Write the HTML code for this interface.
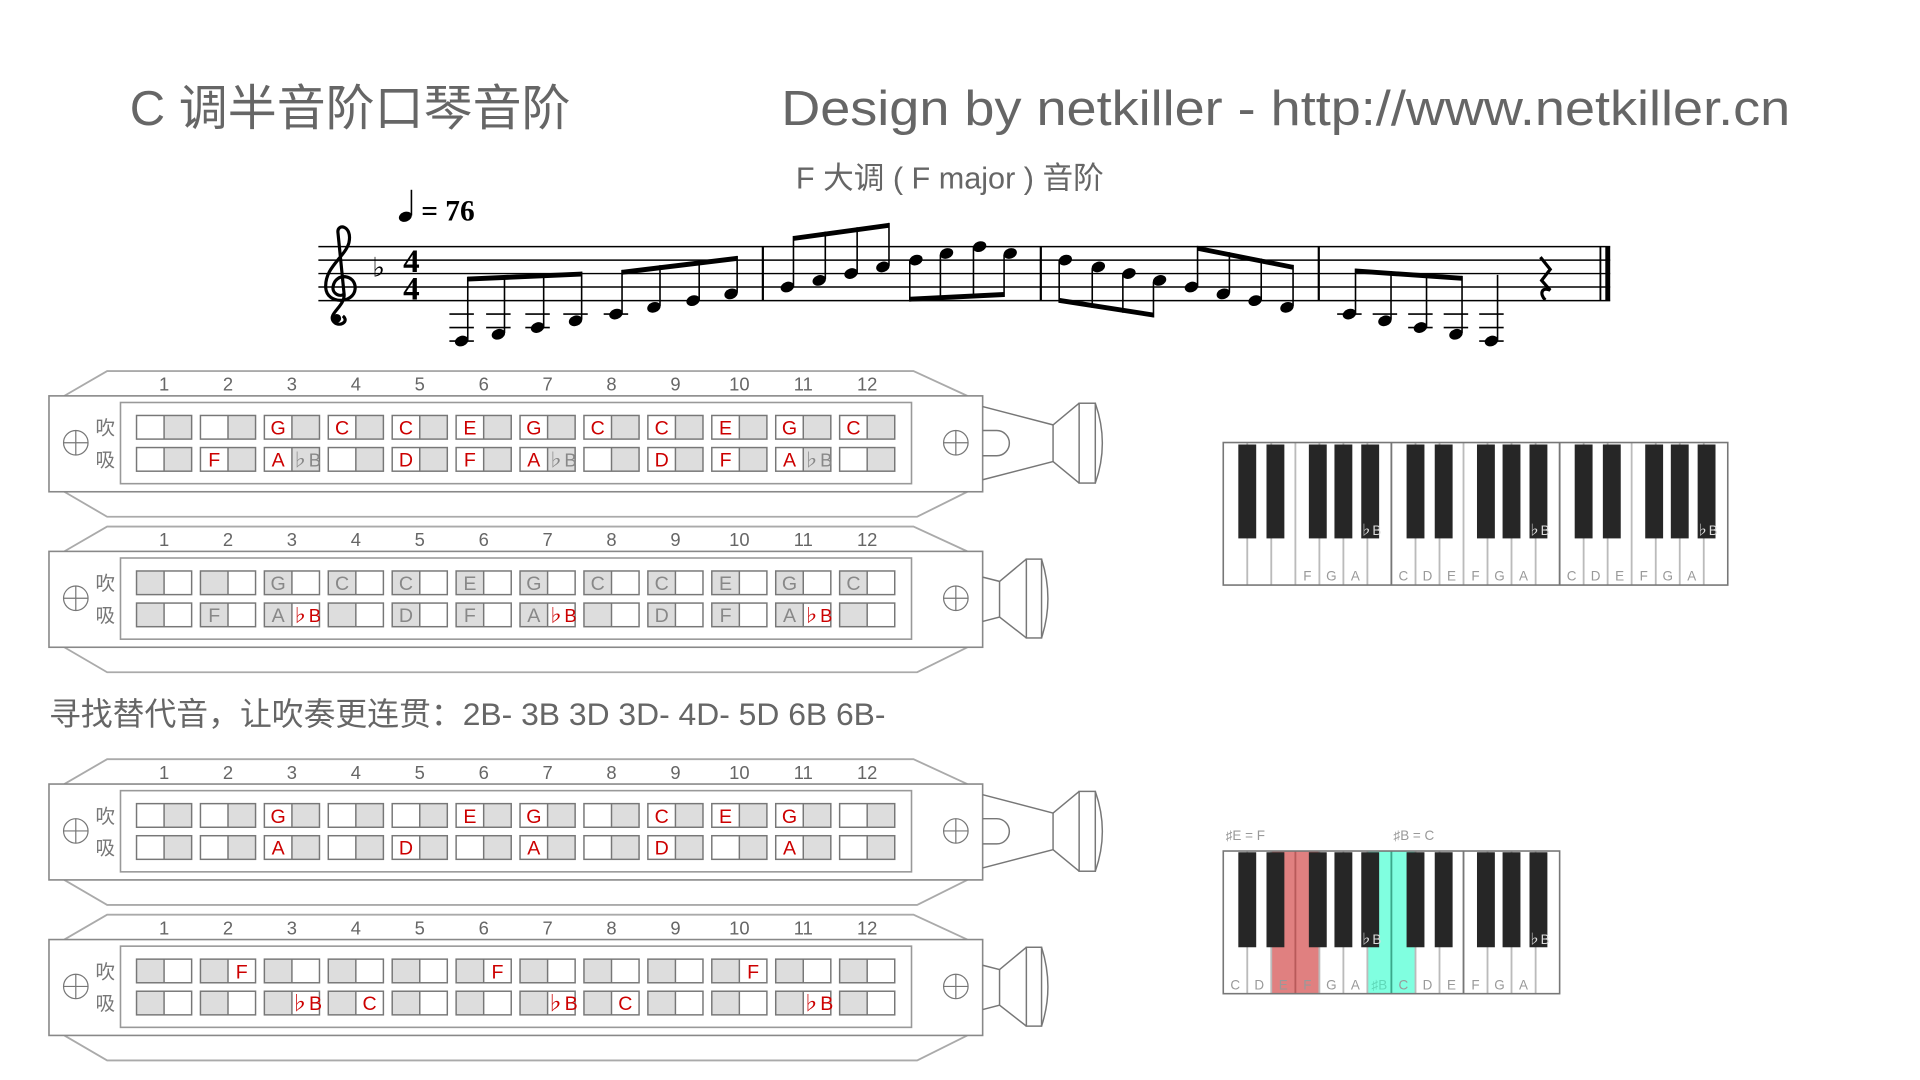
<!DOCTYPE html>
<html><head><meta charset="utf-8"><style>
html,body{margin:0;padding:0;background:#fff;width:1920px;height:1080px;overflow:hidden}
svg{display:block}
text{font-family:"Liberation Sans","Noto Sans CJK SC",sans-serif}
text.serif{font-family:"Liberation Serif",serif;font-weight:bold}
text.dj{font-family:"DejaVu Sans",sans-serif}
</style></head><body>
<svg width="1920" height="1080" viewBox="0 0 1568 882" preserveAspectRatio="none" xmlns="http://www.w3.org/2000/svg">
<defs>
<g id="pA"><rect x="0" y="339.3" width="22.5" height="19.3" fill="#fff"/><rect x="22.5" y="339.3" width="22.5" height="19.3" fill="#ddd"/><rect x="0" y="365.5" width="22.5" height="19.3" fill="#fff"/><rect x="22.5" y="365.5" width="22.5" height="19.3" fill="#ddd"/><g fill="none" stroke="#777" stroke-width="1.2"><rect x="0" y="339.3" width="45" height="19.3"/><rect x="0" y="365.5" width="45" height="19.3"/><line x1="22.5" y1="339.3" x2="22.5" y2="358.6"/><line x1="22.5" y1="365.5" x2="22.5" y2="384.8"/></g></g>
<g id="pB"><rect x="0" y="339.3" width="22.5" height="19.3" fill="#ddd"/><rect x="22.5" y="339.3" width="22.5" height="19.3" fill="#fff"/><rect x="0" y="365.5" width="22.5" height="19.3" fill="#ddd"/><rect x="22.5" y="365.5" width="22.5" height="19.3" fill="#fff"/><g fill="none" stroke="#777" stroke-width="1.2"><rect x="0" y="339.3" width="45" height="19.3"/><rect x="0" y="365.5" width="45" height="19.3"/><line x1="22.5" y1="339.3" x2="22.5" y2="358.6"/><line x1="22.5" y1="365.5" x2="22.5" y2="384.8"/></g></g>
<g id="body">
<polyline points="52.5,323.3 87.5,303 746,303 790,323.3" fill="none" stroke="#aaa" stroke-width="1.5"/>
<polyline points="52.5,401.6 87.5,422 749,422 790,401.6" fill="none" stroke="#aaa" stroke-width="1.5"/>
<rect x="40" y="323.3" width="762.5" height="78.3" fill="#fff" stroke="#888" stroke-width="1.3"/>
<rect x="98.4" y="328.7" width="646" height="66.3" fill="#fff" stroke="#999" stroke-width="1.3"/>
<g fill="none" stroke="#777" stroke-width="1"><circle cx="61.9" cy="361.6" r="10"/><line x1="51.9" y1="361.6" x2="71.9" y2="361.6"/><line x1="61.9" y1="351.6" x2="61.9" y2="371.6"/>
<circle cx="780.6" cy="361.6" r="10"/><line x1="770.6" y1="361.6" x2="790.6" y2="361.6"/><line x1="780.6" y1="351.6" x2="780.6" y2="371.6"/></g>
<text x="86" y="355" font-size="16" fill="#777" text-anchor="middle">吹</text>
<text x="86" y="381" font-size="16" fill="#777" text-anchor="middle">吸</text>
<g font-size="15" fill="#666" text-anchor="middle">
<text x="134" y="319">1</text><text x="186.2" y="319">2</text><text x="238.4" y="319">3</text><text x="290.6" y="319">4</text><text x="342.8" y="319">5</text><text x="395" y="319">6</text><text x="447.2" y="319">7</text><text x="499.4" y="319">8</text><text x="551.6" y="319">9</text><text x="603.8" y="319">10</text><text x="656" y="319">11</text><text x="708.2" y="319">12</text></g>
</g>
<g id="cellsA"><use href="#pA" x="111.5"/><use href="#pA" x="163.7"/><use href="#pA" x="215.9"/><use href="#pA" x="268.1"/><use href="#pA" x="320.3"/><use href="#pA" x="372.5"/><use href="#pA" x="424.7"/><use href="#pA" x="476.9"/><use href="#pA" x="529.1"/><use href="#pA" x="581.3"/><use href="#pA" x="633.5"/><use href="#pA" x="685.7"/></g>
<g id="cellsB"><use href="#pB" x="111.5"/><use href="#pB" x="163.7"/><use href="#pB" x="215.9"/><use href="#pB" x="268.1"/><use href="#pB" x="320.3"/><use href="#pB" x="372.5"/><use href="#pB" x="424.7"/><use href="#pB" x="476.9"/><use href="#pB" x="529.1"/><use href="#pB" x="581.3"/><use href="#pB" x="633.5"/><use href="#pB" x="685.7"/></g>
<g id="mouthA" fill="none" stroke="#777" stroke-width="1.2">
<polyline points="802.5,332 860,347 881.3,329.3"/><polyline points="802.5,391.8 860,376.9 881.3,394.5"/><line x1="860" y1="347" x2="860" y2="376.9"/>
<rect x="881.3" y="329.3" width="13.2" height="65.2"/><path d="M894.5,329.3 Q906,362 894.5,394.5"/>
<path d="M802.5,351.6 H814 A10.3,10.3 0 0 1 814,372.2 H802.5"/></g>
<g id="mouthB" fill="none" stroke="#777" stroke-width="1.2">
<polyline points="802.5,344.3 816.3,347.8 838.2,329.6"/><polyline points="802.5,380.5 816.3,376.9 838.2,394"/><line x1="816.3" y1="347.8" x2="816.3" y2="376.9"/>
<rect x="838.2" y="329.6" width="12.4" height="64.4"/><path d="M850.6,329.6 Q861,362 850.6,394"/></g>
</defs>

<text x="106" y="102" font-size="40" fill="#666">C 调半音阶口琴音阶</text>
<text x="638" y="102" font-size="40" fill="#666" textLength="824" lengthAdjust="spacingAndGlyphs">Design by netkiller - http://www.netkiller.cn</text>
<text x="650" y="154" font-size="25" fill="#666">F 大调 ( F major ) 音阶</text>

<g stroke="#000" stroke-width="1.2">
<line x1="260" y1="201.4" x2="1315" y2="201.4"/><line x1="260" y1="212.4" x2="1315" y2="212.4"/><line x1="260" y1="223.4" x2="1315" y2="223.4"/><line x1="260" y1="234.4" x2="1315" y2="234.4"/><line x1="260" y1="245.5" x2="1315" y2="245.5"/>
<line x1="623" y1="201.4" x2="623" y2="245.5" stroke-width="1.8"/><line x1="850" y1="201.4" x2="850" y2="245.5" stroke-width="1.8"/><line x1="1077" y1="201.4" x2="1077" y2="245.5" stroke-width="1.8"/><line x1="1307" y1="201.4" x2="1307" y2="245.5" stroke-width="1.5"/>
</g>
<rect x="1311" y="201.4" width="4" height="44.1" fill="#000"/>
<path d="M280,258 C286,263 276,268 272,262 C268,256 282,250 281,240 L276,190 C275,182 288,184 285,198 C282,210 265,218 266,235 C267,249 289,248 290,236 C291,224 274,222 272,234 C271,240 278,243 281,240" fill="none" stroke="#000" stroke-width="2.6"/>
<circle cx="275" cy="260" r="3.6" fill="#000"/>
<text class="dj" x="304" y="226" font-size="22" fill="#000">♭</text>
<text class="serif" x="336" y="222" font-size="27" text-anchor="middle" fill="#000">4</text>
<text class="serif" x="336" y="244.5" font-size="27" text-anchor="middle" fill="#000">4</text>
<ellipse cx="331" cy="177" rx="5.4" ry="4" transform="rotate(-20 331 177)" fill="#000"/>
<line x1="336" y1="176" x2="336" y2="155" stroke="#000" stroke-width="1.3"/>
<text class="serif" x="344" y="180" font-size="24" fill="#000">= 76</text>

<g fill="#000">
<ellipse cx="377" cy="278.5" rx="5.6" ry="4.2" transform="rotate(-20 377 278.5)"/>
<ellipse cx="407" cy="273" rx="5.6" ry="4.2" transform="rotate(-20 407 273)"/>
<ellipse cx="439" cy="267.5" rx="5.6" ry="4.2" transform="rotate(-20 439 267.5)"/>
<ellipse cx="470" cy="262" rx="5.6" ry="4.2" transform="rotate(-20 470 262)"/>
<ellipse cx="503" cy="256.5" rx="5.6" ry="4.2" transform="rotate(-20 503 256.5)"/>
<ellipse cx="534" cy="251" rx="5.6" ry="4.2" transform="rotate(-20 534 251)"/>
<ellipse cx="566" cy="245.5" rx="5.6" ry="4.2" transform="rotate(-20 566 245.5)"/>
<ellipse cx="597" cy="240" rx="5.6" ry="4.2" transform="rotate(-20 597 240)"/>
<ellipse cx="643" cy="234.4" rx="5.6" ry="4.2" transform="rotate(-20 643 234.4)"/>
<ellipse cx="669" cy="229" rx="5.6" ry="4.2" transform="rotate(-20 669 229)"/>
<ellipse cx="695" cy="223.4" rx="5.6" ry="4.2" transform="rotate(-20 695 223.4)"/>
<ellipse cx="721" cy="218" rx="5.6" ry="4.2" transform="rotate(-20 721 218)"/>
<ellipse cx="748" cy="212.4" rx="5.6" ry="4.2" transform="rotate(-20 748 212.4)"/>
<ellipse cx="773" cy="207" rx="5.6" ry="4.2" transform="rotate(-20 773 207)"/>
<ellipse cx="800" cy="201.4" rx="5.6" ry="4.2" transform="rotate(-20 800 201.4)"/>
<ellipse cx="825" cy="207" rx="5.6" ry="4.2" transform="rotate(-20 825 207)"/>
<ellipse cx="870" cy="212.4" rx="5.6" ry="4.2" transform="rotate(-20 870 212.4)"/>
<ellipse cx="897" cy="218" rx="5.6" ry="4.2" transform="rotate(-20 897 218)"/>
<ellipse cx="922" cy="223.4" rx="5.6" ry="4.2" transform="rotate(-20 922 223.4)"/>
<ellipse cx="947" cy="229" rx="5.6" ry="4.2" transform="rotate(-20 947 229)"/>
<ellipse cx="973" cy="234.4" rx="5.6" ry="4.2" transform="rotate(-20 973 234.4)"/>
<ellipse cx="999" cy="240" rx="5.6" ry="4.2" transform="rotate(-20 999 240)"/>
<ellipse cx="1025" cy="245.5" rx="5.6" ry="4.2" transform="rotate(-20 1025 245.5)"/>
<ellipse cx="1051" cy="251" rx="5.6" ry="4.2" transform="rotate(-20 1051 251)"/>
<ellipse cx="1102" cy="256.5" rx="5.6" ry="4.2" transform="rotate(-20 1102 256.5)"/>
<ellipse cx="1131" cy="262" rx="5.6" ry="4.2" transform="rotate(-20 1131 262)"/>
<ellipse cx="1160" cy="267.5" rx="5.6" ry="4.2" transform="rotate(-20 1160 267.5)"/>
<ellipse cx="1189" cy="273" rx="5.6" ry="4.2" transform="rotate(-20 1189 273)"/>
<ellipse cx="1218" cy="278.5" rx="5.6" ry="4.2" transform="rotate(-20 1218 278.5)"/>
<polygon points="382,225.9 475,221.8 475,225.8 382,229.9"/>
<polygon points="508,220.4 602,209 602,213 508,224.4"/>
<polygon points="648,192.7 726,182 726,186 648,196.7"/>
<polygon points="743,246.3 820,242.5 820,238.5 743,242.3"/>
<polygon points="865,247.3 942,259.3 942,255.3 865,243.3"/>
<polygon points="978,200.8 1056,216.3 1056,220.3 978,204.8"/>
<polygon points="1107,219.3 1194,225.3 1194,229.3 1107,223.3"/>
</g>
<g stroke="#000" stroke-width="1.3">
<line x1="382" y1="278" x2="382" y2="226"/><line x1="412" y1="272" x2="412" y2="224.6"/><line x1="444" y1="267" x2="444" y2="223.2"/><line x1="475" y1="261" x2="475" y2="221.8"/>
<line x1="508" y1="256" x2="508" y2="220.4"/><line x1="539" y1="250" x2="539" y2="216.6"/><line x1="571" y1="245" x2="571" y2="212.8"/><line x1="602" y1="239" x2="602" y2="209"/>
<line x1="648" y1="234" x2="648" y2="192.7"/><line x1="674" y1="228" x2="674" y2="189.1"/><line x1="700" y1="223" x2="700" y2="185.6"/><line x1="726" y1="217" x2="726" y2="182"/>
<line x1="743" y1="213" x2="743" y2="246.3"/><line x1="768" y1="208" x2="768" y2="245.1"/><line x1="795" y1="202" x2="795" y2="243.7"/><line x1="820" y1="208" x2="820" y2="242.5"/>
<line x1="865" y1="213" x2="865" y2="247.3"/><line x1="892" y1="219" x2="892" y2="251.5"/><line x1="917" y1="224" x2="917" y2="255.4"/><line x1="942" y1="230" x2="942" y2="259.3"/>
<line x1="978" y1="234" x2="978" y2="200.8"/><line x1="1004" y1="239" x2="1004" y2="206"/><line x1="1030" y1="245" x2="1030" y2="211.1"/><line x1="1056" y1="250" x2="1056" y2="216.3"/>
<line x1="1107" y1="256" x2="1107" y2="219.3"/><line x1="1136" y1="261" x2="1136" y2="221.3"/><line x1="1165" y1="267" x2="1165" y2="223.3"/><line x1="1194" y1="272" x2="1194" y2="225.3"/>
<line x1="1223" y1="278" x2="1223" y2="224.5"/>
<line x1="367" y1="256.5" x2="387" y2="256.5"/><line x1="367" y1="267.5" x2="387" y2="267.5"/><line x1="367" y1="278.5" x2="387" y2="278.5"/>
<line x1="397" y1="256.5" x2="417" y2="256.5"/><line x1="397" y1="267.5" x2="417" y2="267.5"/>
<line x1="429" y1="256.5" x2="449" y2="256.5"/><line x1="429" y1="267.5" x2="449" y2="267.5"/>
<line x1="460" y1="256.5" x2="480" y2="256.5"/>
<line x1="493" y1="256.5" x2="513" y2="256.5"/>
<line x1="1092" y1="256.5" x2="1112" y2="256.5"/>
<line x1="1121" y1="256.5" x2="1141" y2="256.5"/>
<line x1="1150" y1="256.5" x2="1170" y2="256.5"/><line x1="1150" y1="267.5" x2="1170" y2="267.5"/>
<line x1="1179" y1="256.5" x2="1199" y2="256.5"/><line x1="1179" y1="267.5" x2="1199" y2="267.5"/>
<line x1="1208" y1="256.5" x2="1228" y2="256.5"/><line x1="1208" y1="267.5" x2="1228" y2="267.5"/><line x1="1208" y1="278.5" x2="1228" y2="278.5"/>
</g>
<path d="M1258,210 L1266,220 L1259,229 L1266,237 C1259,234 1257,240 1262,245" fill="none" stroke="#000" stroke-width="2.6"/>

<g><use href="#body"/><use href="#cellsA"/><use href="#mouthA"/>
<g font-size="16" fill="#c00" text-anchor="middle">
<text x="227.15" y="355">G</text><text x="279.35" y="355">C</text><text x="331.55" y="355">C</text><text x="383.75" y="355">E</text><text x="435.95" y="355">G</text><text x="488.15" y="355">C</text><text x="540.35" y="355">C</text><text x="592.55" y="355">E</text><text x="644.75" y="355">G</text><text x="696.95" y="355">C</text>
<text x="174.95" y="381">F</text><text x="227.15" y="381">A</text><text x="331.55" y="381">D</text><text x="383.75" y="381">F</text><text x="435.95" y="381">A</text><text x="540.35" y="381">D</text><text x="592.55" y="381">F</text><text x="644.75" y="381">A</text></g>
<g font-size="15" fill="#888" text-anchor="middle"><text x="249.65" y="381">♭B</text><text x="458.45" y="381">♭B</text><text x="667.25" y="381">♭B</text></g>
</g>
<g transform="translate(0,127)"><use href="#body"/><use href="#cellsB"/><use href="#mouthB"/>
<g font-size="16" fill="#888" text-anchor="middle">
<text x="227.15" y="355">G</text><text x="279.35" y="355">C</text><text x="331.55" y="355">C</text><text x="383.75" y="355">E</text><text x="435.95" y="355">G</text><text x="488.15" y="355">C</text><text x="540.35" y="355">C</text><text x="592.55" y="355">E</text><text x="644.75" y="355">G</text><text x="696.95" y="355">C</text>
<text x="174.95" y="381">F</text><text x="227.15" y="381">A</text><text x="331.55" y="381">D</text><text x="383.75" y="381">F</text><text x="435.95" y="381">A</text><text x="540.35" y="381">D</text><text x="592.55" y="381">F</text><text x="644.75" y="381">A</text></g>
<g font-size="15" fill="#c00" text-anchor="middle"><text x="249.65" y="381">♭B</text><text x="458.45" y="381">♭B</text><text x="667.25" y="381">♭B</text></g>
</g>

<text x="40" y="592" font-size="26" fill="#666">寻找替代音，让吹奏更连贯：2B- 3B 3D 3D- 4D- 5D 6B 6B-</text>

<g transform="translate(0,317)"><use href="#body"/><use href="#cellsA"/><use href="#mouthA"/>
<g font-size="16" fill="#c00" text-anchor="middle">
<text x="227.15" y="355">G</text><text x="383.75" y="355">E</text><text x="435.95" y="355">G</text><text x="540.35" y="355">C</text><text x="592.55" y="355">E</text><text x="644.75" y="355">G</text>
<text x="227.15" y="381">A</text><text x="331.55" y="381">D</text><text x="435.95" y="381">A</text><text x="540.35" y="381">D</text><text x="644.75" y="381">A</text></g>
</g>
<g transform="translate(0,444)"><use href="#body"/><use href="#cellsB"/><use href="#mouthB"/>
<g font-size="16" fill="#c00" text-anchor="middle">
<text x="197.45" y="355">F</text><text x="406.25" y="355">F</text><text x="615.05" y="355">F</text>
<text x="249.65" y="381">♭B</text><text x="301.85" y="381">C</text><text x="458.45" y="381">♭B</text><text x="510.65" y="381">C</text><text x="667.25" y="381">♭B</text></g>
</g>

<g>
<rect x="999" y="361.4" width="412" height="116.4" fill="#fff"/>
<g stroke="#bbb" stroke-width="1.5">
<line x1="1018.6" y1="361.4" x2="1018.6" y2="477.8"/><line x1="1038.2" y1="361.4" x2="1038.2" y2="477.8"/><line x1="1057.9" y1="361.4" x2="1057.9" y2="477.8"/><line x1="1077.5" y1="361.4" x2="1077.5" y2="477.8"/><line x1="1097.1" y1="361.4" x2="1097.1" y2="477.8"/><line x1="1116.7" y1="361.4" x2="1116.7" y2="477.8"/>
<line x1="1156" y1="361.4" x2="1156" y2="477.8"/><line x1="1175.6" y1="361.4" x2="1175.6" y2="477.8"/><line x1="1195.2" y1="361.4" x2="1195.2" y2="477.8"/><line x1="1214.8" y1="361.4" x2="1214.8" y2="477.8"/><line x1="1234.4" y1="361.4" x2="1234.4" y2="477.8"/><line x1="1254.1" y1="361.4" x2="1254.1" y2="477.8"/>
<line x1="1293.3" y1="361.4" x2="1293.3" y2="477.8"/><line x1="1312.9" y1="361.4" x2="1312.9" y2="477.8"/><line x1="1332.5" y1="361.4" x2="1332.5" y2="477.8"/><line x1="1352.2" y1="361.4" x2="1352.2" y2="477.8"/><line x1="1371.8" y1="361.4" x2="1371.8" y2="477.8"/><line x1="1391.4" y1="361.4" x2="1391.4" y2="477.8"/>
</g>
<g stroke="#777" stroke-width="1.5"><line x1="1136.3" y1="361.4" x2="1136.3" y2="477.8"/><line x1="1273.7" y1="361.4" x2="1273.7" y2="477.8"/></g>
<g fill="#262626">
<rect x="1011.3" y="363" width="14.6" height="76.7"/><rect x="1034.3" y="363" width="14.6" height="76.7"/><rect x="1068.9" y="363" width="14.6" height="76.7"/><rect x="1089.8" y="363" width="14.6" height="76.7"/><rect x="1111.7" y="363" width="14.6" height="76.7"/>
<rect x="1148.7" y="363" width="14.6" height="76.7"/><rect x="1171.7" y="363" width="14.6" height="76.7"/><rect x="1206.2" y="363" width="14.6" height="76.7"/><rect x="1227.1" y="363" width="14.6" height="76.7"/><rect x="1249.1" y="363" width="14.6" height="76.7"/>
<rect x="1286" y="363" width="14.6" height="76.7"/><rect x="1309" y="363" width="14.6" height="76.7"/><rect x="1343.6" y="363" width="14.6" height="76.7"/><rect x="1364.5" y="363" width="14.6" height="76.7"/><rect x="1386.4" y="363" width="14.6" height="76.7"/>
</g>
<rect x="999" y="361.4" width="412" height="116.4" fill="none" stroke="#777" stroke-width="1.3"/>
<g font-size="11" fill="#ddd" text-anchor="middle"><text x="1119" y="437">♭B</text><text x="1256.4" y="437">♭B</text><text x="1393.7" y="437">♭B</text></g>
<g font-size="11" fill="#999" text-anchor="middle">
<text x="1067.7" y="474">F</text><text x="1087.3" y="474">G</text><text x="1106.9" y="474">A</text>
<text x="1146.1" y="474">C</text><text x="1165.8" y="474">D</text><text x="1185.4" y="474">E</text><text x="1205" y="474">F</text><text x="1224.6" y="474">G</text><text x="1244.2" y="474">A</text>
<text x="1283.5" y="474">C</text><text x="1303.1" y="474">D</text><text x="1322.7" y="474">E</text><text x="1342.4" y="474">F</text><text x="1362" y="474">G</text><text x="1381.6" y="474">A</text></g>
</g>

<g>
<rect x="999" y="695" width="274.7" height="116.5" fill="#fff"/>
<rect x="1038.2" y="695" width="39.3" height="116.5" fill="#e08080"/>
<rect x="1116.7" y="695" width="39.3" height="116.5" fill="#80ffe0"/>
<g stroke="#bbb" stroke-width="1.5">
<line x1="1018.6" y1="695" x2="1018.6" y2="811.5"/><line x1="1038.2" y1="695" x2="1038.2" y2="811.5"/><line x1="1077.5" y1="695" x2="1077.5" y2="811.5"/><line x1="1097.1" y1="695" x2="1097.1" y2="811.5"/><line x1="1116.7" y1="695" x2="1116.7" y2="811.5"/>
<line x1="1156" y1="695" x2="1156" y2="811.5"/><line x1="1175.6" y1="695" x2="1175.6" y2="811.5"/><line x1="1214.8" y1="695" x2="1214.8" y2="811.5"/><line x1="1234.4" y1="695" x2="1234.4" y2="811.5"/><line x1="1254.1" y1="695" x2="1254.1" y2="811.5"/>
</g>
<line x1="1057.9" y1="695" x2="1057.9" y2="811.5" stroke="#b85a5a" stroke-width="1.5"/>
<line x1="1136.3" y1="695" x2="1136.3" y2="811.5" stroke="#3aa88a" stroke-width="1.5"/>
<line x1="1195.2" y1="695" x2="1195.2" y2="811.5" stroke="#777" stroke-width="1.5"/>
<g fill="#262626">
<rect x="1011.3" y="696" width="14.6" height="77.6"/><rect x="1034.3" y="696" width="14.6" height="77.6"/><rect x="1068.9" y="696" width="14.6" height="77.6"/><rect x="1089.8" y="696" width="14.6" height="77.6"/><rect x="1111.7" y="696" width="14.6" height="77.6"/>
<rect x="1148.7" y="696" width="14.6" height="77.6"/><rect x="1171.7" y="696" width="14.6" height="77.6"/><rect x="1206.2" y="696" width="14.6" height="77.6"/><rect x="1227.1" y="696" width="14.6" height="77.6"/><rect x="1249.1" y="696" width="14.6" height="77.6"/>
</g>
<rect x="999" y="695" width="274.7" height="116.5" fill="none" stroke="#777" stroke-width="1.3"/>
<g font-size="11" fill="#ddd" text-anchor="middle"><text x="1119" y="771">♭B</text><text x="1256.4" y="771">♭B</text></g>
<g font-size="11" fill="#999" text-anchor="middle">
<text x="1008.8" y="808">C</text><text x="1028.4" y="808">D</text><text x="1048" y="808">E</text><text x="1067.7" y="808">F</text><text x="1087.3" y="808">G</text><text x="1106.9" y="808">A</text><text x="1126.5" y="808" fill="#5fd8b8">♯B</text><text x="1146.1" y="808">C</text><text x="1165.8" y="808">D</text><text x="1185.4" y="808">E</text><text x="1205" y="808">F</text><text x="1224.6" y="808">G</text><text x="1244.2" y="808">A</text></g>
<text x="1001" y="686" font-size="11" fill="#999">♯E = F</text>
<text x="1138" y="686" font-size="11" fill="#999">♯B = C</text>
</g>
</svg>
</body></html>
